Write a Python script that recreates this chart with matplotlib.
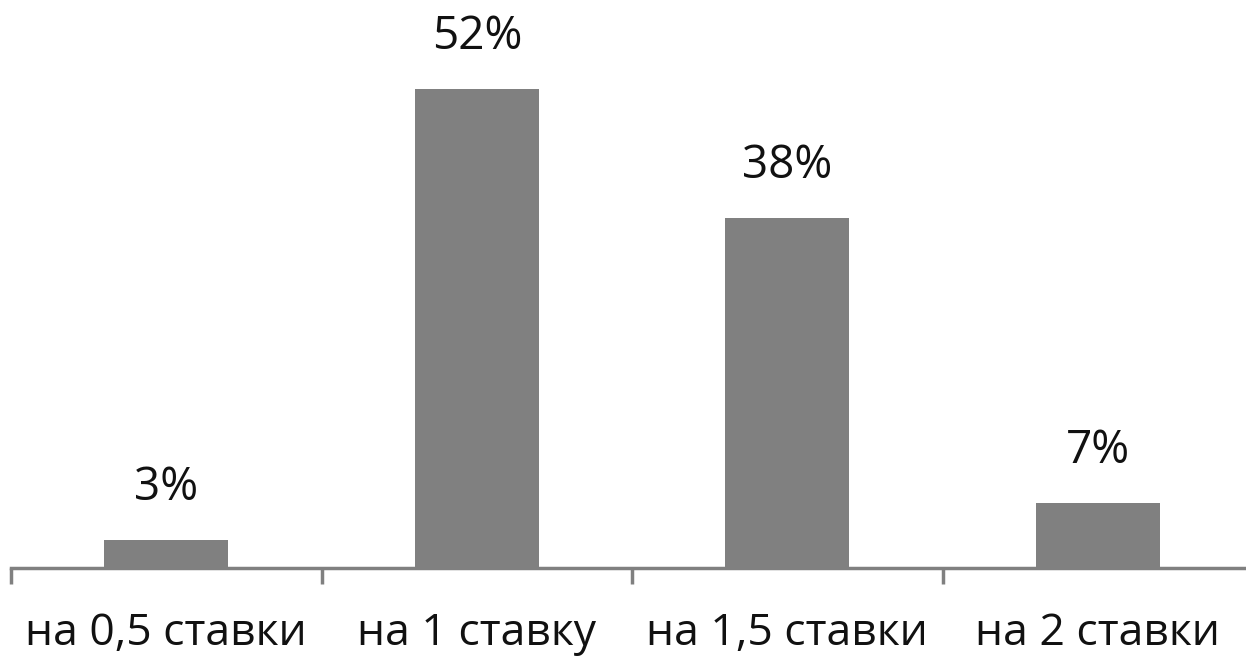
import matplotlib.pyplot as plt

categories = ["на 0,5 ставки", "на 1 ставку", "на 1,5 ставки", "на 2 ставки"]
values = [3, 52, 38, 7]

plt.rcParams['font.family'] = ['Open Sans', 'DejaVu Sans']

fig = plt.figure(figsize=(12.46, 6.56), dpi=100)
# axes placed in pixel terms: left 11px, bottom 88px, height ~553px
ax = fig.add_axes([11 / 1246, 88 / 656, 1 - 11 / 1246, 553 / 656])

x = list(range(len(categories)))
bars = ax.bar(x, values, width=0.4, color="#808080", zorder=3)

for xi, v in zip(x, values):
    ax.annotate(f"{v}%", (xi, v), xytext=(0, 21), textcoords="offset points",
                ha="center", va="bottom", fontsize=33, color="#111111")

ax.set_xlim(-0.5, 3.477)
ax.set_ylim(0, 60)

for s in ["top", "right", "left"]:
    ax.spines[s].set_visible(False)
ax.spines["bottom"].set_color("#808080")
ax.spines["bottom"].set_linewidth(2.5)
ax.spines["bottom"].set_zorder(2)

ax.set_yticks([])
ax.set_xticks(x)
ax.set_xticklabels(categories, fontsize=32, color="#111111")
ax.tick_params(axis="x", which="major", length=0, pad=31)
ax.set_xticks([-0.5, 0.5, 1.5, 2.5], minor=True)
ax.tick_params(axis="x", which="minor", length=11.5, width=2.5, color="#808080")

fig.savefig("out.png", dpi=100)
